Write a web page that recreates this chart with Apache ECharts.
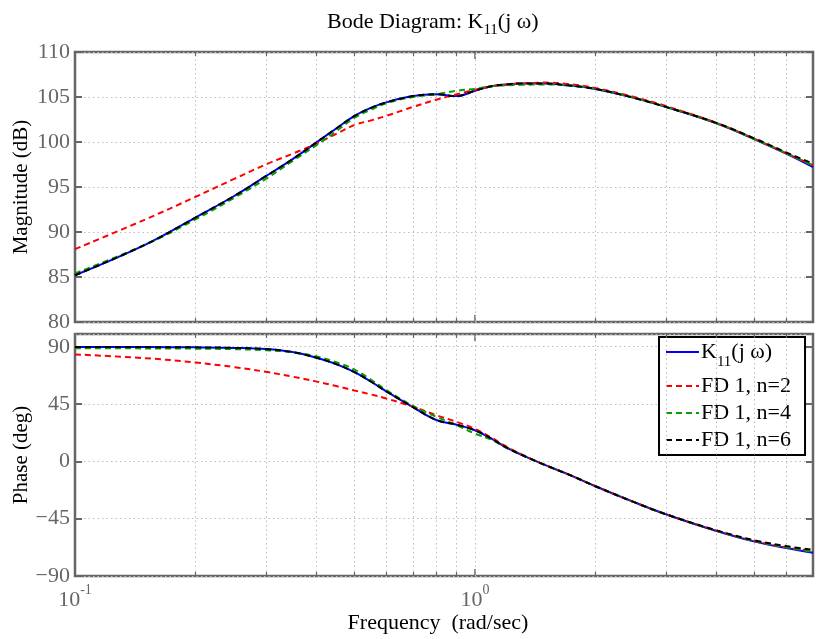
<!DOCTYPE html>
<html>
<head>
<meta charset="utf-8">
<script src="https://cdn.jsdelivr.net/npm/echarts@6/dist/echarts.min.js"></script>
<style>html,body{margin:0;padding:0;background:#fff;}#c{width:816px;height:639px;}</style>
</head>
<body>
<div id="c"></div>
<script>
// ---- data ----
const freq   = [0.1, 0.15, 0.2, 0.25, 0.3, 0.35, 0.4, 0.45, 0.5, 0.55, 0.6, 0.7, 0.8, 0.9, 1.0, 1.1, 1.2, 1.3, 1.5, 1.7, 2, 2.5, 3, 4, 5, 6, 7];
const magK11 = [85.2, 88.6, 91.6, 94.0, 96.2, 98.1, 99.9, 101.5, 102.9, 103.8, 104.4, 105.1, 105.3, 105.1, 105.7, 106.2, 106.4, 106.5, 106.5, 106.3, 105.9, 104.9, 103.9, 102.1, 100.3, 98.7, 97.2];
const magN2  = [88.1, 91.4, 93.9, 95.9, 97.5, 98.7, 99.8, 100.9, 101.9, 102.4, 102.9, 103.9, 104.7, 105.3, 105.8, 106.2, 106.4, 106.5, 106.6, 106.45, 106.0, 105.0, 104.0, 102.15, 100.35, 98.75, 97.4];
const magN4  = [85.4, 88.6, 91.4, 93.8, 95.9, 97.9, 99.6, 101.2, 102.7, 103.6, 104.3, 105.0, 105.3, 105.7, 105.9, 106.2, 106.3, 106.35, 106.4, 106.3, 105.9, 104.9, 103.9, 102.1, 100.3, 98.75, 97.4];
const magN6  = [85.2, 88.6, 91.6, 94.0, 96.2, 98.1, 99.9, 101.5, 102.9, 103.8, 104.4, 105.1, 105.3, 105.1, 105.7, 106.2, 106.4, 106.5, 106.5, 106.3, 105.9, 104.9, 103.9, 102.15, 100.4, 98.85, 97.6];
const phK11  = [89.8, 89.7, 89.5, 89.1, 88.2, 85.8, 81.5, 76.3, 70.0, 62.5, 55.0, 42.5, 32.5, 28.8, 24.4, 17.8, 10.8, 5.5, -3.0, -9.8, -19.5, -32.0, -41.5, -54.5, -63.0, -68.0, -71.8];
const phN2   = [84.0, 81.0, 77.6, 74.0, 70.3, 66.5, 62.8, 59.1, 55.6, 52.5, 49.4, 42.9, 36.3, 31.0, 25.5, 18.5, 11.5, 5.8, -3.0, -9.8, -19.5, -32.0, -41.5, -54.3, -62.5, -67.5, -70.5];
const phN4   = [88.8, 88.7, 88.5, 88.1, 87.3, 85.6, 82.5, 77.8, 72.0, 64.0, 56.0, 43.5, 35.0, 28.5, 21.8, 17.0, 10.5, 5.5, -3.0, -9.8, -19.5, -32.0, -41.5, -54.3, -62.5, -67.5, -71.0];
const phN6   = [89.8, 89.7, 89.5, 89.1, 88.2, 85.8, 81.5, 76.3, 70.0, 62.5, 55.0, 42.5, 32.5, 28.8, 24.4, 17.8, 10.8, 5.5, -3.0, -9.8, -19.5, -32.0, -41.5, -54.0, -62.0, -66.5, -69.5];
const minorFreqs = [0.2, 0.3, 0.4, 0.5, 0.6, 0.7, 0.8, 0.9, 2, 3, 4, 5, 6];
const seriesNames = ['K11(j ω)', 'FD 1, n=2', 'FD 1, n=4', 'FD 1, n=6'];
const seriesColors = ['#0000ff', '#ff0000', '#00a000', '#000000'];

const FONT = 'Liberation Serif';
const AX = '#666666';
const GRIDC = '#bdbdbd';

function pairs(ys) { return freq.map((f, i) => [f, ys[i]]); }

function helperSeries(xi, yi) {
  const lines = minorFreqs.map(f => ({ xAxis: f }));
  lines.push({ xAxis: 1 });
  return {
    type: 'line', xAxisIndex: xi, yAxisIndex: yi, data: [], silent: true, z: 1,
    markLine: {
      silent: true, symbol: ['none', 'none'], label: { show: false }, animation: false,
      lineStyle: { color: GRIDC, type: [1.5, 3], width: 1 },
      emphasis: { disabled: true },
      data: lines
    }
  };
}
function tickSeries(xi, yi, ymin, ymax, d) {
  const data = [];
  minorFreqs.forEach(f => {
    data.push([{ coord: [f, ymin] }, { coord: [f, ymin + d] }]);
    data.push([{ coord: [f, ymax] }, { coord: [f, ymax - d] }]);
  });
  return {
    type: 'line', xAxisIndex: xi, yAxisIndex: yi, data: [], silent: true, z: 3,
    markLine: {
      silent: true, symbol: ['none', 'none'], label: { show: false }, animation: false,
      lineStyle: { color: AX, type: 'solid', width: 1.2 },
      emphasis: { disabled: true },
      data: data
    }
  };
}

function mkSeries(name, color, ys, xi, yi, z) {
  const solid = name === seriesNames[0];
  return {
    name: name, type: 'line', xAxisIndex: xi, yAxisIndex: yi, z: z,
    data: pairs(ys), showSymbol: false, symbol: 'none', symbolSize: 0, smooth: 0.4,
    lineStyle: { color: color, width: 2, type: solid ? 'solid' : [6, 4] },
    itemStyle: { color: color },
    emphasis: { disabled: true }
  };
}

const magSets = [magK11, magN2, magN4, magN6];
const phSets = [phK11, phN2, phN4, phN6];

const series = [helperSeries(0, 0), helperSeries(1, 1), tickSeries(0, 0, 80, 110, 0.45), tickSeries(1, 1, -90, 100, 3.2)];
seriesNames.forEach((n, i) => series.push(mkSeries(n, seriesColors[i], magSets[i], 0, 0, 5 + i)));
seriesNames.forEach((n, i) => series.push(mkSeries(n, seriesColors[i], phSets[i], 1, 1, 5 + i)));

const xCommon = {
  type: 'log', logBase: 10, min: 0.1, max: 7,
  axisLine: { show: false, onZero: false },
  axisTick: { show: true, inside: true, length: 7, lineStyle: { color: AX, width: 1.5 } },
  splitLine: { show: false },
  minorTick: { show: false }
};
const yTickStyle = { show: true, inside: true, length: 7, lineStyle: { color: AX, width: 2 } };
const gridLineStyle = { show: true, lineStyle: { color: GRIDC, type: [1.5, 3], width: 1 } };
const yLabel = { color: AX, fontFamily: FONT, fontSize: 22, margin: 5 };

const option = {
  animation: false,
  backgroundColor: '#ffffff',
  title: {
    text: '{a|Bode Diagram: K}{s|11}{a|(j ω)}',
    left: 322, top: 0,
    textStyle: {
      fontWeight: 'normal',
      rich: {
        a: { fontFamily: FONT, fontSize: 22, fontWeight: 'normal', color: '#000', lineHeight: 34, verticalAlign: 'middle' },
        s: { fontFamily: FONT, fontSize: 15, fontWeight: 'normal', color: '#000', lineHeight: 34, verticalAlign: 'bottom', padding: [0, 0, 1, 0] }
      }
    }
  },
  grid: [
    { left: 75, top: 52, width: 738, height: 270, show: true, borderColor: AX, borderWidth: 2.5, backgroundColor: 'transparent' },
    { left: 75, top: 334, width: 738, height: 242, show: true, borderColor: AX, borderWidth: 2.5, backgroundColor: 'transparent' }
  ],
  legend: {
    data: seriesNames,
    orient: 'vertical', left: 659, top: 337,
    backgroundColor: '#ffffff', borderColor: '#000', borderWidth: 2, borderRadius: 0,
    padding: [4, 14, 4, 6], itemGap: 5, itemWidth: 33, itemHeight: 14,
    selectedMode: false,
    itemStyle: { opacity: 0 },
    formatter: function (n) {
      if (n === seriesNames[0]) return '{a|K}{s|11}{a|(j ω)}';
      return '{a|' + n + '}';
    },
    textStyle: {
      color: '#000', fontFamily: FONT, fontSize: 22, padding: [0, 0, 0, -3],
      rich: {
        a: { fontFamily: FONT, fontSize: 22, color: '#000', lineHeight: 24, verticalAlign: 'middle' },
        s: { fontFamily: FONT, fontSize: 15, color: '#000', lineHeight: 24, verticalAlign: 'bottom', padding: [0, 0, -6, 0] }
      }
    }
  },
  xAxis: [
    Object.assign({}, xCommon, { gridIndex: 0, position: 'bottom', axisLabel: { show: false } }),
    Object.assign({}, xCommon, {
      gridIndex: 1, position: 'bottom',
      name: 'Frequency  (rad/sec)', nameLocation: 'middle', nameGap: 33,
      nameTextStyle: { color: '#000', fontFamily: FONT, fontSize: 22, padding: [0, 12, 0, 0] },
      axisLabel: {
        show: true, showMaxLabel: false, margin: 7,
        formatter: function (v) {
          const e = Math.round(Math.log10(v));
          return '{b|10}{e|' + e + '}';
        },
        rich: {
          b: { fontFamily: FONT, fontSize: 22, color: AX, lineHeight: 28, verticalAlign: 'bottom' },
          e: { fontFamily: FONT, fontSize: 14, color: AX, lineHeight: 28, verticalAlign: 'top' }
        }
      }
    }),
    Object.assign({}, xCommon, { gridIndex: 0, position: 'top', axisLabel: { show: false } }),
    Object.assign({}, xCommon, { gridIndex: 1, position: 'top', axisLabel: { show: false } })
  ],
  yAxis: [
    {
      type: 'value', gridIndex: 0, min: 80, max: 110, interval: 5, position: 'left',
      name: 'Magnitude (dB)', nameLocation: 'middle', nameGap: 43, nameRotate: 90, nameMoveOverlap: false,
      nameTextStyle: { color: '#000', fontFamily: FONT, fontSize: 21 },
      axisLine: { show: false }, axisTick: yTickStyle, splitLine: gridLineStyle,
      axisLabel: yLabel
    },
    {
      type: 'value', gridIndex: 1, min: -90, max: 100, interval: 45, position: 'left',
      name: 'Phase (deg)', nameLocation: 'middle', nameGap: 43, nameRotate: 90, nameMoveOverlap: false,
      nameTextStyle: { color: '#000', fontFamily: FONT, fontSize: 21 },
      axisLine: { show: false }, axisTick: yTickStyle, splitLine: gridLineStyle,
      axisLabel: Object.assign({}, yLabel, {
        showMaxLabel: false,
        formatter: function (v) { return v < 0 ? '\u2212' + Math.abs(v) : String(v); }
      })
    },
    {
      type: 'value', gridIndex: 0, min: 80, max: 110, interval: 5, position: 'right',
      axisLine: { show: false }, axisTick: yTickStyle, splitLine: { show: false }, axisLabel: { show: false }
    },
    {
      type: 'value', gridIndex: 1, min: -90, max: 100, interval: 45, position: 'right',
      axisLine: { show: false }, axisTick: yTickStyle, splitLine: { show: false }, axisLabel: { show: false }
    }
  ],
  series: series
};

const chart = echarts.init(document.getElementById('c'), null, { renderer: 'canvas' });
chart.setOption(option);
</script>
</body>
</html>
